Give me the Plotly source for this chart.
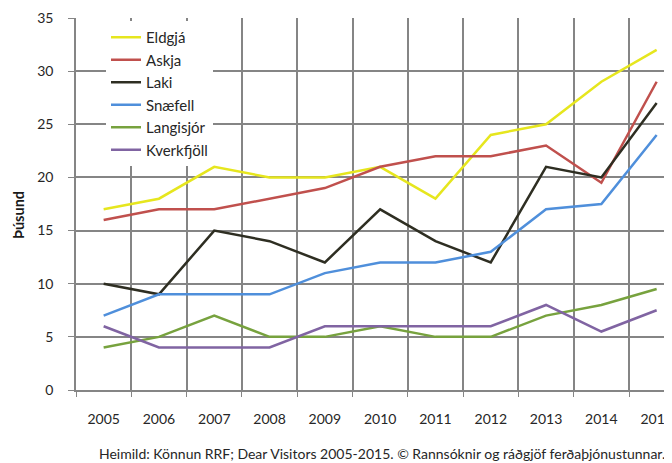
import plotly.graph_objects as go

years = [2005, 2006, 2007, 2008, 2009, 2010, 2011, 2012, 2013, 2014, 2015]
eldgja = [17, 18, 21, 20, 20, 21, 18, 24, 25, 29, 32]
askja = [16, 17, 17, 18, 19, 21, 22, 22, 23, 19.5, 29]
laki = [10, 9, 15, 14, 12, 17, 14, 12, 21, 20, 27]
snaefell = [7, 9, 9, 9, 11, 12, 12, 13, 17, 17.5, 24]
langisjor = [4, 5, 7, 5, 5, 6, 5, 5, 7, 8, 9.5]
kverkfjoll = [6, 4, 4, 4, 6, 6, 6, 6, 8, 5.5, 7.5]

series = [
    ("Eldgjá", eldgja, "#e6e61e"),
    ("Askja", askja, "#c0504d"),
    ("Laki", laki, "#2e2e22"),
    ("Snæfell", snaefell, "#4f8fdb"),
    ("Langisjór", langisjor, "#77a23e"),
    ("Kverkfjöll", kverkfjoll, "#8064a2"),
]

fig = go.Figure()
for name, vals, col in series:
    fig.add_trace(go.Scatter(x=years, y=vals, name=name, mode="lines",
                             line=dict(color=col, width=2.5)))

# page body has an 8px margin: design in screen pixels, convert by subtracting OFF
OFF = 8
W, H = 672 - OFF, 463 - OFF
L, T = 76 - OFF, 18 - OFF
R, B = 0, H - (390 - OFF)
pw, ph = W - L - R, H - T - B
px_per_year = 55.3
x_end = 2004.5 + pw / px_per_year
grid = "#858585"


def sx(x):
    return (x - OFF - L) / pw


def sy(y):
    return (T + ph - (y - OFF)) / ph


fig.update_layout(
    width=W, height=H,
    margin=dict(l=L, r=R, t=T, b=B),
    paper_bgcolor="white", plot_bgcolor="rgba(0,0,0,0)",
    font=dict(family="Lato", size=14, color="#404040"),
    showlegend=True,
    legend=dict(x=sx(106), y=sy(21), xanchor="left", yanchor="top",
                bgcolor="white", font=dict(size=15, color="#262626"),
                tracegroupgap=0, itemwidth=30),
    xaxis=dict(range=[2004.5, x_end], automargin=False,
               tickvals=years, ticktext=[str(y) for y in years],
               showgrid=False, ticks="outside", ticklen=15, tickcolor="rgba(0,0,0,0)",
               ticklabeloverflow="allow",
               minor=dict(tick0=2004.5, dtick=1, showgrid=True, gridcolor=grid, gridwidth=1.5,
                          ticks="outside", ticklen=5, tickcolor=grid),
               showline=True, linecolor=grid, linewidth=1.5, zeroline=False,
               layer="above traces",
               tickfont=dict(size=14, color="#262626")),
    yaxis=dict(range=[0, 35], dtick=5, automargin=False,
               showgrid=True, gridcolor=grid, gridwidth=1.5,
               ticks="outside", ticklen=6, tickcolor=grid,
               showline=True, linecolor=grid, linewidth=1.5, zeroline=False,
               ticklabelstandoff=12, tickfont=dict(size=14, color="#262626")),
)

fig.add_annotation(text="<b>Þúsund</b>", textangle=-90, xref="paper", yref="paper",
                   x=sx(18), y=sy(215), xanchor="center", yanchor="middle", showarrow=False,
                   font=dict(size=14.5, color="#1a1a1a"))
fig.add_annotation(text="Heimild: Könnun RRF; Dear Visitors 2005-2015. © Rannsóknir og ráðgjöf ferðaþjónustunnar.",
                   xref="paper", yref="paper", x=sx(382), y=sy(453), xanchor="center",
                   yanchor="middle", showarrow=False,
                   font=dict(size=14, color="#262626"))

fig.write_html("out.html")
